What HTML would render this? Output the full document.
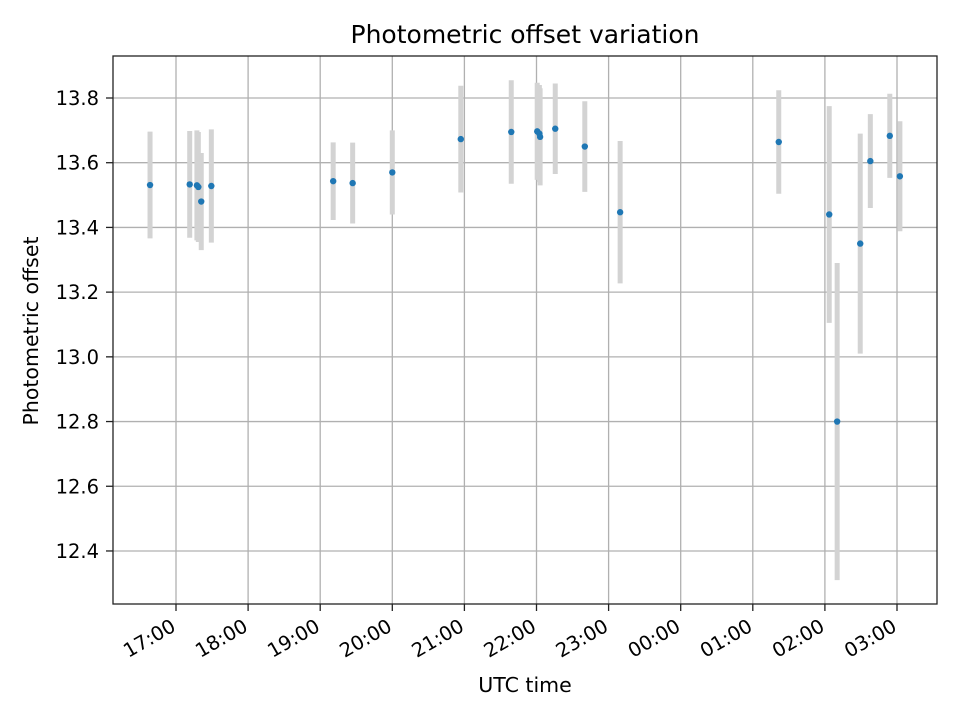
<!DOCTYPE html>
<html><head><meta charset="utf-8"><style>
html,body{margin:0;padding:0;background:#fff}
svg text{font-family:"DejaVu Sans","Liberation Sans",sans-serif;fill:#000}
</style></head><body>
<svg id="chart" width="960" height="720" xmlns="http://www.w3.org/2000/svg">
<rect width="960" height="720" fill="#fff"/>
<g id="grid"></g>
<g id="errs"></g>
<g id="pts"></g>
<rect x="113" y="56" width="824" height="548" fill="none" stroke="#222" stroke-width="1.3"/>
<g id="ticks"></g>
<text x="525" y="43" text-anchor="middle" font-size="25">Photometric offset variation</text>
<text x="525" y="692" text-anchor="middle" font-size="20.5">UTC time</text>
<text transform="translate(38,331) rotate(-90)" text-anchor="middle" font-size="20.5">Photometric offset</text>
</svg>
<script>
// times in hours since 00:00 of first day (after midnight = 24+)
const times = [16.64,17.19,17.29,17.31,17.35,17.49,19.18,19.45,20.0,20.95,21.65,22.01,22.04,22.05,22.26,22.67,23.16,25.36,26.06,26.17,26.49,26.63,26.9,27.04];
const values = [13.531,13.533,13.53,13.525,13.48,13.528,13.543,13.537,13.57,13.673,13.695,13.697,13.69,13.68,13.705,13.65,13.447,13.664,13.44,12.8,13.35,13.605,13.683,13.558];
const errors = [0.165,0.165,0.17,0.17,0.15,0.175,0.12,0.125,0.13,0.165,0.16,0.15,0.15,0.15,0.14,0.14,0.22,0.16,0.335,0.49,0.34,0.145,0.13,0.17];
const xTickHours = [17,18,19,20,21,22,23,24,25,26,27];
const xTickLabels = ["17:00","18:00","19:00","20:00","21:00","22:00","23:00","00:00","01:00","02:00","03:00"];
const yTicks = [12.4,12.6,12.8,13.0,13.2,13.4,13.6,13.8];

const NS="http://www.w3.org/2000/svg";
const xS = h => 176 + (h-17)*72.1;
const yS = v => 98 + (13.8-v)*323.55;
function mk(tag, attrs, parent){const e=document.createElementNS(NS,tag);for(const k in attrs)e.setAttribute(k,attrs[k]);document.getElementById(parent).appendChild(e);return e;}

xTickHours.forEach((h,i)=>{
  const x=xS(h);
  const g=mk('line',{x1:x,x2:x,y1:56,y2:604,stroke:'#b0b0b0','stroke-width':1.3},'grid');
  
  
  const t=mk('line',{x1:x,x2:x,y1:604,y2:611,stroke:'#222','stroke-width':1.3},'ticks');
  
  
  const l=mk('text',{x:x+1,y:630,'text-anchor':'end','font-size':19.5,transform:`rotate(-30 ${x+1} 630)`},'ticks');
  l.textContent=xTickLabels[i];
  
  
});
yTicks.forEach(v=>{
  const y=yS(v);
  const g=mk('line',{x1:113,x2:937,y1:y,y2:y,stroke:'#b0b0b0','stroke-width':1.3},'grid');
  
  
  const t=mk('line',{x1:106,x2:113,y1:y,y2:y,stroke:'#222','stroke-width':1.3},'ticks');
  
  
  const l=mk('text',{x:99,y:y+7,'text-anchor':'end','font-size':19.5},'ticks');
  l.textContent=v.toFixed(1);
  
  
});
times.forEach((h,i)=>{
  const x=xS(h);
  const e=mk('line',{x1:x,x2:x,y1:yS(values[i]+errors[i]),y2:yS(values[i]-errors[i]),stroke:'#d3d3d3','stroke-width':5},'errs');
  
  
  const c=mk('circle',{cx:x,cy:yS(values[i]),r:3.2,fill:'#1f77b4'},'pts');
  
  
});
</script>
</body></html>
